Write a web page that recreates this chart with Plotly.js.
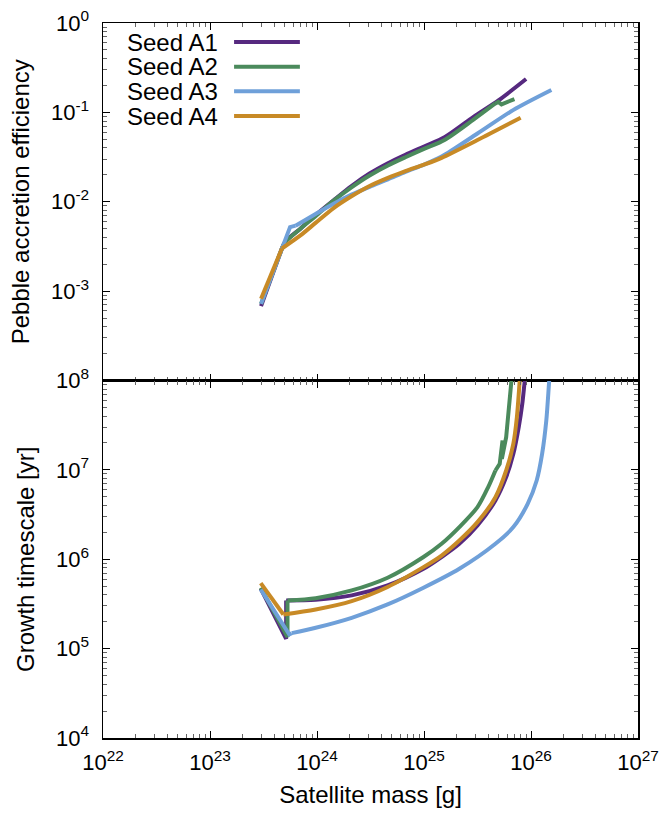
<!DOCTYPE html>
<html><head><meta charset="utf-8">
<script src="https://cdn.plot.ly/plotly-3.0.1.min.js"></script>
<style>html,body{margin:0;padding:0;background:#fff;} #chart{width:665px;height:817px;}</style>
</head><body><div id="chart"></div>
<script>
const seriesNames = ['Seed A1', 'Seed A2', 'Seed A3', 'Seed A4'];
const seriesColors = ['#56297f', '#4b8a5c', '#6fa0d9', '#c88a26'];

// Top panel: pebble accretion efficiency vs satellite mass [g]
const effMassA1 = [3.0e23, 4.7e23, 5.2e23, 7.0e23, 9.7e23, 1.43e24, 2.1e24, 3.1e24, 4.6e24, 6.7e24, 1.0e25, 1.57e25, 2.9e25, 5.0e25, 9.0e25];
const effA1     = [6.8e-4, 3.0e-3, 3.7e-3, 5.0e-3, 7.1e-3, 1.04e-2, 1.5e-2, 2.07e-2, 2.7e-2, 3.35e-2, 4.15e-2, 5.3e-2, 8.9e-2, 0.137, 0.236];
const effMassA2 = [3.0e23, 4.7e23, 5.0e23, 7.0e23, 9.7e23, 1.43e24, 2.1e24, 3.1e24, 4.6e24, 6.7e24, 1.0e25, 1.57e25, 2.9e25, 4.6e25, 4.95e25, 5.3e25, 7.0e25];
const effA2     = [7.2e-4, 3.0e-3, 3.5e-3, 5.0e-3, 6.9e-3, 1.03e-2, 1.45e-2, 1.97e-2, 2.55e-2, 3.15e-2, 3.9e-2, 4.95e-2, 8.3e-2, 0.125, 0.131, 0.123, 0.141];
const effMassA3 = [3.0e23, 4.7e23, 5.2e23, 5.6e23, 6.3e23, 9.7e23, 1.43e24, 2.1e24, 3.1e24, 4.6e24, 6.7e24, 1.0e25, 1.46e25, 3.16e25, 6.8e25, 1.55e26];
const effA3     = [7.2e-4, 3.0e-3, 4.0e-3, 5.2e-3, 5.4e-3, 7.3e-3, 9.5e-3, 1.2e-2, 1.47e-2, 1.78e-2, 2.16e-2, 2.6e-2, 3.2e-2, 5.8e-2, 0.106, 0.178];
const effMassA4 = [3.0e23, 4.7e23, 7.0e23, 9.7e23, 1.43e24, 2.1e24, 3.1e24, 4.6e24, 6.7e24, 1.0e25, 1.46e25, 3.16e25, 8.0e25];
const effA4     = [8.2e-4, 3.0e-3, 4.2e-3, 5.8e-3, 8.5e-3, 1.15e-2, 1.5e-2, 1.85e-2, 2.2e-2, 2.6e-2, 3.1e-2, 4.9e-2, 8.7e-2];

// Bottom panel: growth timescale [yr] vs satellite mass [g]
const timeMassA1 = [2.98e23, 5.15e23, 5.15e23, 9.72e23, 2.11e24, 4.57e24, 9.89e24, 1.46e25, 2.14e25, 3.16e25, 4.65e25, 5.86e25, 6.84e25, 7.68e25, 8.29e25, 8.75e25, 9.0e25];
const timeA1     = [4.7e5, 1.29e5, 3.46e5, 3.52e5, 3.94e5, 5.09e5, 7.82e5, 1.06e6, 1.49e6, 2.39e6, 4.55e6, 8.29e6, 1.51e7, 3.01e7, 5.48e7, 1.0e8, 1.3e8];
const timeMassA2 = [2.98e23, 5.3e23, 5.3e23, 9.72e23, 2.11e24, 4.57e24, 9.89e24, 1.46e25, 2.14e25, 3.16e25, 3.98e25, 4.65e25, 5.10e25, 5.42e25, 5.34e25, 5.86e25, 6.18e25, 6.5e25, 6.7e25];
const timeA2     = [4.8e5, 1.35e5, 3.46e5, 3.67e5, 4.48e5, 6.21e5, 1.06e6, 1.49e6, 2.29e6, 3.83e6, 6.41e6, 9.84e6, 1.17e7, 2.13e7, 1.33e7, 2.32e7, 4.62e7, 1.0e8, 1.3e8];
const timeMassA3 = [2.98e23, 5.5e23, 5.8e23, 9.72e23, 2.11e24, 4.57e24, 9.89e24, 2.14e25, 4.65e25, 6.84e25, 9.31e25, 1.13e26, 1.27e26, 1.39e26, 1.48e26, 1.51e26];
const timeA3     = [4.6e5, 1.44e5, 1.49e5, 1.71e5, 2.21e5, 3.12e5, 4.8e5, 7.82e5, 1.49e6, 2.29e6, 4.17e6, 7.6e6, 1.51e7, 3.57e7, 1.0e8, 1.3e8];
const timeMassA4 = [2.98e23, 4.85e23, 9.72e23, 2.11e24, 4.57e24, 9.89e24, 1.46e25, 2.14e25, 3.16e25, 4.65e25, 5.86e25, 6.84e25, 7.38e25, 7.85e25, 8.0e25];
const timeA4     = [5.4e5, 2.41e5, 2.74e5, 3.4e5, 4.9e5, 8.17e5, 1.1e6, 1.62e6, 2.6e6, 4.95e6, 9.84e6, 1.96e7, 3.89e7, 1.0e8, 1.3e8];

// Tick labels
const xTickVals = [1e22, 1e23, 1e24, 1e25, 1e26, 1e27];
const xTickText = ['10<sup>22</sup>', '10<sup>23</sup>', '10<sup>24</sup>', '10<sup>25</sup>', '10<sup>26</sup>', '10<sup>27</sup>'];
const effTickVals = [1, 0.1, 0.01, 0.001];
const effTickText = ['10<sup>0</sup>', '10<sup>-1</sup>', '10<sup>-2</sup>', '10<sup>-3</sup>'];
const timeTickVals = [1e4, 1e5, 1e6, 1e7, 1e8];
const timeTickText = ['10<sup>4</sup>', '10<sup>5</sup>', '10<sup>6</sup>', '10<sup>7</sup>', '10<sup>8</sup>'];

function minorVals(d0, d1) {
  const v = [];
  for (let d = d0; d < d1; d++) for (let k = 2; k <= 9; k++) v.push(k * Math.pow(10, d));
  return v;
}

const effMass = [effMassA1, effMassA2, effMassA3, effMassA4];
const effVals = [effA1, effA2, effA3, effA4];
const timeMass = [timeMassA1, timeMassA2, timeMassA3, timeMassA4];
const timeVals = [timeA1, timeA2, timeA3, timeA4];

// How each curve is drawn: straight pieces around sharp corners, smoothed pieces elsewhere
const effPieces = [
  [[0, 1, 'linear'], [1, 14, 'spline']],
  [[0, 1, 'linear'], [1, 13, 'spline'], [13, 16, 'linear']],
  [[0, 4, 'linear'], [4, 15, 'spline']],
  [[0, 1, 'linear'], [1, 12, 'spline']]
];
const timePieces = [
  [[0, 2, 'linear'], [2, 16, 'spline']],
  [[0, 2, 'linear'], [2, 11, 'spline'], [11, 18, 'linear']],
  [[0, 2, 'linear'], [2, 15, 'spline']],
  [[0, 1, 'linear'], [1, 14, 'spline']]
];

const traces = [];
function addPieces(xs, ys, pieces, color, name, xa, ya) {
  pieces.forEach(p => {
    traces.push({x: xs.slice(p[0], p[1] + 1), y: ys.slice(p[0], p[1] + 1), xaxis: xa, yaxis: ya,
      type: 'scatter', mode: 'lines', line: {color: color, width: 4, shape: p[2], smoothing: 0.8},
      name: name, showlegend: false});
  });
}
for (let i = 0; i < 4; i++) addPieces(effMass[i], effVals[i], effPieces[i], seriesColors[i], seriesNames[i], 'x', 'y');
for (let i = 0; i < 4; i++) addPieces(timeMass[i], timeVals[i], timePieces[i], seriesColors[i], seriesNames[i], 'x2', 'y2');

const FONT = 'Liberation Sans, Arial, Helvetica, sans-serif';
const axisCommon = {
  type: 'log', showgrid: false, zeroline: false, showline: true, linecolor: '#000', linewidth: 1.5,
  mirror: 'allticks', ticks: 'inside', ticklen: 7, tickwidth: 1, tickcolor: '#000',
  tickfont: {family: FONT, size: 22, color: '#000'}, tickmode: 'array'
};
const minorCommon = {tickmode: 'array', ticks: 'inside', ticklen: 4, tickcolor: '#666', showgrid: false};

const annotations = [];
const shapes = [];
const legX = 0.043, legLineX0 = 0.245, legLineX1 = 0.368, legY0 = 0.9734, legDy = 0.0345;
for (let i = 0; i < 4; i++) {
  const yy = legY0 - i * legDy;
  annotations.push({xref: 'paper', yref: 'paper', x: legX, y: yy, xanchor: 'left', yanchor: 'middle',
    text: seriesNames[i], showarrow: false, borderpad: 0, font: {family: FONT, size: 24, color: '#000'}});
  shapes.push({type: 'line', xref: 'paper', yref: 'paper', x0: legLineX0, x1: legLineX1, y0: yy, y1: yy,
    line: {color: seriesColors[i], width: 4}});
}

const layout = {
  width: 665, height: 817,
  margin: {l: 103, r: 27, t: 23, b: 79},
  paper_bgcolor: '#fff', plot_bgcolor: '#fff',
  showlegend: false,
  font: {family: FONT, color: '#000'},
  xaxis: Object.assign({}, axisCommon, {anchor: 'y', domain: [0, 1], range: [22, 27], tickvals: xTickVals, ticktext: xTickText,
    showticklabels: false, minor: Object.assign({tickvals: minorVals(22, 27)}, minorCommon)}),
  yaxis: Object.assign({}, axisCommon, {anchor: 'x', domain: [0.5, 1], range: [-4, 0], tickvals: effTickVals, ticktext: effTickText,
    ticklabelstandoff: 8, minor: Object.assign({tickvals: minorVals(-4, 0)}, minorCommon),
    title: {text: 'Pebble accretion efficiency', font: {family: FONT, size: 24, color: '#000'}, standoff: 14}}),
  xaxis2: Object.assign({}, axisCommon, {anchor: 'y2', domain: [0, 1], range: [22, 27], tickvals: xTickVals, ticktext: xTickText,
    ticklabelstandoff: 4, matches: 'x', minor: Object.assign({tickvals: minorVals(22, 27)}, minorCommon),
    title: {text: 'Satellite mass [g]', font: {family: FONT, size: 24, color: '#000'}, standoff: 12}}),
  yaxis2: Object.assign({}, axisCommon, {anchor: 'x2', domain: [0, 0.5], range: [4, 8], tickvals: timeTickVals, ticktext: timeTickText,
    ticklabelstandoff: 8, minor: Object.assign({tickvals: minorVals(4, 8)}, minorCommon),
    title: {text: 'Growth timescale [yr]', font: {family: FONT, size: 24, color: '#000'}, standoff: 14}}),
  annotations: annotations,
  shapes: shapes
};

Plotly.newPlot('chart', traces, layout, {displayModeBar: false, staticPlot: true});
</script>
</body></html>
